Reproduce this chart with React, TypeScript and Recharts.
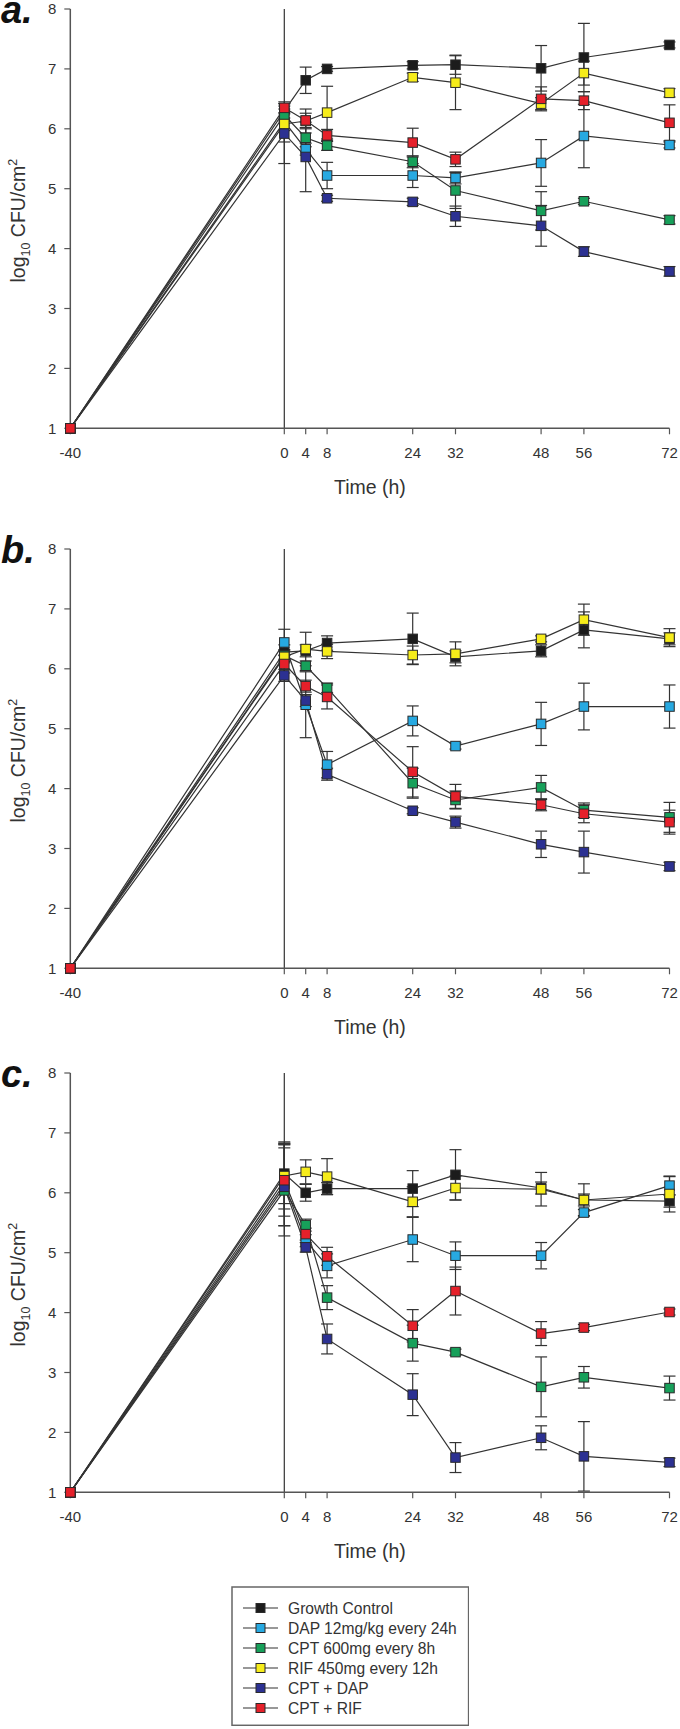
import React from 'react';
import { LineChart, Line, XAxis, YAxis, ErrorBar, ReferenceLine } from 'recharts';

const FONT = "'Liberation Sans', Arial, Helvetica, sans-serif";

const times = [-40, 0, 4, 8, 24, 32, 48, 56, 72];
const xTicks = [-40, 0, 4, 8, 24, 32, 48, 56, 72];
const yTicks = [1, 2, 3, 4, 5, 6, 7, 8];

const seriesKeys = ['gc', 'dap', 'cpt', 'rif', 'cptdap', 'cptrif'];
const seriesNames = [
  'Growth Control',
  'DAP 12mg/kg every 24h',
  'CPT 600mg every 8h',
  'RIF 450mg every 12h',
  'CPT + DAP',
  'CPT + RIF',
];
const seriesColors = ['#1c1c1c', '#27a9e1', '#17a05a', '#f6ec1a', '#2c3192', '#e5202a'];

// Panel a
const aGC = [1, 6.3, 6.81, 7.0, 7.06, 7.07, 7.01, 7.19, 7.4];
const aGCErr = [0, 0.12, 0.22, 0.04, 0.06, 0.16, 0.38, 0.57, 0.05];
const aDAP = [1, 6.12, 5.66, 5.22, 5.22, 5.18, 5.43, 5.88, 5.73];
const aDAPErr = [0, 0.15, 0.1, 0.22, 0.2, 0.1, 0.39, 0.53, 0.05];
const aCPT = [1, 6.23, 5.85, 5.72, 5.45, 4.97, 4.63, 4.79, 4.48];
const aCPTErr = [0, 0.1, 0.15, 0.08, 0.1, 0.3, 0.32, 0.05, 0.07];
const aRIF = [1, 6.08, 6.13, 6.27, 6.86, 6.77, 6.42, 6.93, 6.6];
const aRIFErr = [0, 0.3, 0.2, 0.44, 0.07, 0.45, 0.1, 0.2, 0.07];
const aCPTDAP = [1, 5.92, 5.53, 4.84, 4.78, 4.54, 4.38, 3.95, 3.62];
const aCPTDAPErr = [0, 0.5, 0.58, 0.05, 0.06, 0.17, 0.34, 0.08, 0.08];
const aCPTRIF = [1, 6.35, 6.14, 5.89, 5.77, 5.49, 6.5, 6.47, 6.1];
const aCPTRIFErr = [0, 0.1, 0.12, 0.1, 0.24, 0.12, 0.2, 0.15, 0.3];

// Panel b
const bGC = [1, 6.28, 6.3, 6.43, 6.5, 6.2, 6.3, 6.65, 6.5];
const bGCErr = [0, 0.12, 0.1, 0.12, 0.43, 0.1, 0.1, 0.3, 0.1];
const bDAP = [1, 6.44, 5.4, 4.4, 5.13, 4.71, 5.08, 5.37, 5.37];
const bDAPErr = [0, 0.22, 0.55, 0.22, 0.25, 0.05, 0.36, 0.39, 0.36];
const bCPT = [1, 6.22, 6.05, 5.68, 4.09, 3.81, 4.02, 3.64, 3.52];
const bCPTErr = [0, 0.1, 0.08, 0.08, 0.25, 0.15, 0.2, 0.12, 0.25];
const bRIF = [1, 6.2, 6.33, 6.29, 6.23, 6.25, 6.5, 6.82, 6.52];
const bRIFErr = [0, 0.1, 0.28, 0.12, 0.15, 0.2, 0.05, 0.26, 0.15];
const bCPTDAP = [1, 5.89, 5.47, 4.24, 3.63, 3.44, 3.07, 2.94, 2.7];
const bCPTDAPErr = [0, 0.1, 0.1, 0.1, 0.05, 0.1, 0.22, 0.35, 0.07];
const bCPTRIF = [1, 6.08, 5.71, 5.53, 4.28, 3.87, 3.73, 3.58, 3.44];
const bCPTRIFErr = [0, 0.15, 0.1, 0.2, 0.42, 0.2, 0.1, 0.15, 0.2];

// Panel c
const cGC = [1, 6.32, 6.0, 6.07, 6.07, 6.3, 6.08, 5.88, 5.86];
const cGCErr = [0, 0.5, 0.14, 0.1, 0.3, 0.42, 0.1, 0.1, 0.1];
const cDAP = [1, 6.15, 5.2, 4.78, 5.22, 4.95, 4.95, 5.67, 6.12];
const cDAPErr = [0, 0.7, 0.1, 0.2, 0.37, 0.23, 0.22, 0.05, 0.15];
const cCPT = [1, 6.04, 5.46, 4.25, 3.49, 3.34, 2.76, 2.92, 2.74];
const cCPTErr = [0, 0.76, 0.1, 0.2, 0.3, 0.05, 0.5, 0.18, 0.2];
const cRIF = [1, 6.28, 6.35, 6.27, 5.85, 6.08, 6.06, 5.88, 5.98];
const cRIFErr = [0, 0.55, 0.2, 0.3, 0.25, 0.2, 0.28, 0.27, 0.3];
const cCPTDAP = [1, 6.1, 5.09, 3.56, 2.63, 1.58, 1.91, 1.6, 1.5];
const cCPTDAPErr = [0, 0.65, 0.08, 0.25, 0.35, 0.25, 0.2, 0.58, 0.07];
const cCPTRIF = [1, 6.21, 5.31, 4.94, 3.78, 4.36, 3.65, 3.75, 4.01];
const cCPTRIFErr = [0, 0.6, 0.1, 0.15, 0.27, 0.4, 0.2, 0.05, 0.05];

function buildRows(values: number[][], errs: number[][]) {
  return times.map((t, i) => {
    const row: Record<string, number> = { t };
    seriesKeys.forEach((k, s) => {
      row[k] = values[s][i];
      row[k + 'Err'] = errs[s][i];
    });
    return row;
  });
}

const rowsA = buildRows(
  [aGC, aDAP, aCPT, aRIF, aCPTDAP, aCPTRIF],
  [aGCErr, aDAPErr, aCPTErr, aRIFErr, aCPTDAPErr, aCPTRIFErr]
);
const rowsB = buildRows(
  [bGC, bDAP, bCPT, bRIF, bCPTDAP, bCPTRIF],
  [bGCErr, bDAPErr, bCPTErr, bRIFErr, bCPTDAPErr, bCPTRIFErr]
);
const rowsC = buildRows(
  [cGC, cDAP, cCPT, cRIF, cCPTDAP, cCPTRIF],
  [cGCErr, cDAPErr, cCPTErr, cRIFErr, cCPTDAPErr, cCPTRIFErr]
);

// layout
const CHART_W = 680;
const PLOT_LEFT = 70.3;
const PLOT_RIGHT = 669.5;
const PLOT_H = 419.3;
const MT = 30;
const XH = 80;
const AXIS_COLOR = '#555';
const LINE_COLOR = '#333';

const makeDot = (color: string) => (props: any) => {
  const { cx, cy, index } = props;
  if (cx == null || cy == null || isNaN(cx) || isNaN(cy)) return <g key={`n${index}`} />;
  return (
    <rect
      key={`d${index}`}
      x={cx - 4.75}
      y={cy - 4.75}
      width={9.5}
      height={9.5}
      fill={color}
      stroke="#2a2a2a"
      strokeWidth={1}
    />
  );
};

const XLabel = () => (
  <text
    x={(PLOT_LEFT + PLOT_RIGHT) / 2}
    y={MT + PLOT_H + 52 + 14}
    textAnchor="middle"
    fontSize={19.5}
    fontFamily={FONT}
    fill="#333"
  >
    Time (h)
  </text>
);

const YLabel = ({ letter }: { letter: string }) => (
  <g>
    <text
      x={0}
      y={0}
      transform={`translate(25, ${MT + PLOT_H / 2 + 2}) rotate(-90)`}
      textAnchor="middle"
      fontSize={19.5}
      fontFamily={FONT}
      fill="#333"
    >
      <tspan>log</tspan>
      <tspan fontSize={12.5} dy={5}>10</tspan>
      <tspan dy={-5}> CFU/cm</tspan>
      <tspan fontSize={12.5} dy={-8}>2</tspan>
    </text>
    <text
      x={1}
      y={MT + 14.5}
      fontSize={38}
      fontWeight="bold"
      fontStyle="italic"
      fontFamily={FONT}
      fill="#111"
    >
      {letter}
    </text>
  </g>
);

function Panel({ rows, letter, top }: { rows: any[]; letter: string; top: number }) {
  return (
    <div style={{ position: 'absolute', left: 0, top: top - MT }}>
      <LineChart
        width={CHART_W}
        height={MT + PLOT_H + XH}
        data={rows}
        margin={{ top: MT, right: CHART_W - PLOT_RIGHT, bottom: 0, left: 0 }}
      >
        <XAxis
          dataKey="t"
          type="number"
          domain={[-40, 72]}
          ticks={xTicks}
          interval={0}
          height={XH}
          tickSize={6}
          tickMargin={13}
          axisLine={{ stroke: AXIS_COLOR, strokeWidth: 1.5 }}
          tickLine={{ stroke: AXIS_COLOR, strokeWidth: 1.2 }}
          tick={{ fill: '#333', fontSize: 15, fontFamily: FONT }}
          label={() => <XLabel />}
        />
        <YAxis
          type="number"
          domain={[1, 8]}
          ticks={yTicks}
          interval={0}
          width={PLOT_LEFT}
          tickSize={6}
          tickMargin={8}
          axisLine={{ stroke: AXIS_COLOR, strokeWidth: 1.5 }}
          tickLine={{ stroke: AXIS_COLOR, strokeWidth: 1.2 }}
          tick={{ fill: '#333', fontSize: 15, fontFamily: FONT }}
          label={() => <YLabel letter={letter} />}
        />
        <ReferenceLine x={0} stroke={LINE_COLOR} strokeWidth={1.2} />
        {seriesKeys.map((k, i) => (
          <Line
            key={k}
            dataKey={k}
            name={seriesNames[i]}
            type="linear"
            stroke={LINE_COLOR}
            strokeWidth={1.2}
            isAnimationActive={false}
            dot={makeDot(seriesColors[i])}
            activeDot={false}
          >
            <ErrorBar
              dataKey={k + 'Err'}
              width={6}
              stroke={LINE_COLOR}
              strokeWidth={1.2}
              direction="y"
              isAnimationActive={false}
            />
          </Line>
        ))}
      </LineChart>
    </div>
  );
}

function LegendBox() {
  const w = 236.6;
  const h = 138.3;
  return (
    <svg
      width={w + 2}
      height={h + 2}
      style={{ position: 'absolute', left: 230.7, top: 1585.7 }}
    >
      <rect x={1} y={1} width={w} height={h} fill="#fff" stroke="#666" strokeWidth={1.5} />
      {seriesNames.map((name, i) => {
        const cy = 1 + 21 + i * 20;
        return (
          <g key={name}>
            <line x1={12} x2={47} y1={cy} y2={cy} stroke={LINE_COLOR} strokeWidth={1.2} />
            <rect x={29.5 - 4.5} y={cy - 4.5} width={9} height={9} fill={seriesColors[i]} stroke="#2a2a2a" strokeWidth={1} />
            <text x={57} y={cy + 5.5} fontSize={15.6} fontFamily={FONT} fill="#333">
              {name}
            </text>
          </g>
        );
      })}
    </svg>
  );
}

export default function App() {
  return (
    <div style={{ position: 'absolute', left: 0, top: 0, width: 680, height: 1729, background: '#fff', overflow: 'hidden' }}>
      <Panel rows={rowsA} letter="a." top={9.3} />
      <Panel rows={rowsB} letter="b." top={549.3} />
      <Panel rows={rowsC} letter="c." top={1073.3} />
      <LegendBox />
    </div>
  );
}
